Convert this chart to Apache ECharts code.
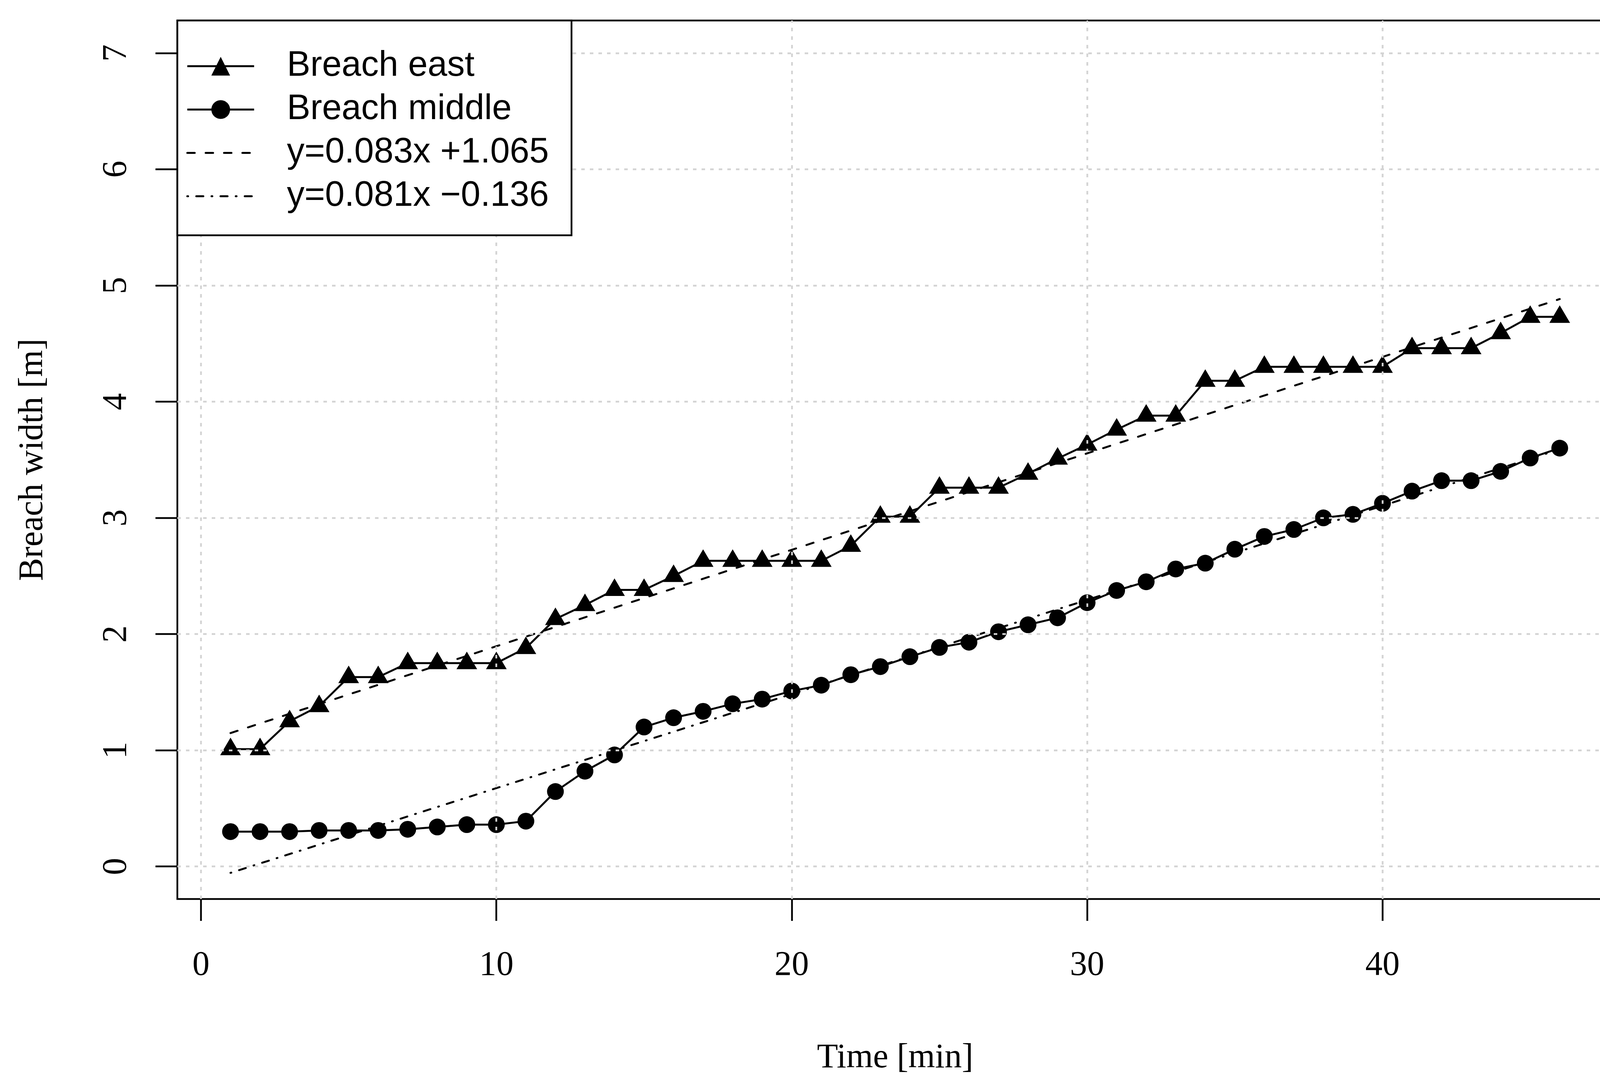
<!DOCTYPE html>
<html><head><meta charset="utf-8">
<script src="https://cdn.jsdelivr.net/npm/echarts@6/dist/echarts.min.js"></script>
<style>html,body{margin:0;padding:0;background:#fff}#c{width:4174px;height:2768px}</style>
</head><body><div id="c"></div>
<script>
// ---- data ----
const timeMin = [1,2,3,4,5,6,7,8,9,10,11,12,13,14,15,16,17,18,19,20,21,22,23,24,25,26,27,28,29,30,31,32,33,34,35,36,37,38,39,40,41,42,43,44,45,46];
const breachEast = [1.01,1.01,1.25,1.38,1.63,1.63,1.75,1.75,1.75,1.75,1.88,2.13,2.25,2.38,2.38,2.50,2.63,2.63,2.63,2.63,2.63,2.76,3.01,3.01,3.26,3.26,3.26,3.38,3.51,3.63,3.76,3.88,3.88,4.18,4.18,4.30,4.30,4.30,4.30,4.30,4.46,4.46,4.46,4.59,4.73,4.73];
const breachMiddle = [0.30,0.30,0.30,0.31,0.31,0.31,0.32,0.34,0.36,0.36,0.39,0.645,0.82,0.96,1.20,1.28,1.335,1.40,1.44,1.51,1.56,1.65,1.72,1.805,1.885,1.93,2.02,2.08,2.14,2.27,2.375,2.45,2.56,2.61,2.73,2.84,2.90,3.00,3.03,3.125,3.23,3.32,3.32,3.40,3.515,3.60];
const fitEastX = [1, 46];
const fitEastY = [1.148, 4.883];
const fitMiddleX = [1, 46];
const fitMiddleY = [-0.055, 3.590];
const xTicks = [0, 10, 20, 30, 40];
const yTicks = [0, 1, 2, 3, 4, 5, 6, 7];
const seriesNames = ['Breach east', 'Breach middle', 'y=0.083x +1.065', 'y=0.081x \u22120.136'];
const xTitle = 'Time [min]';
const yTitle = 'Breach width [m]';

// ---- build ----
const pairs = (xs, ys) => xs.map((x, i) => [x, ys[i]]);
const serif = 'Liberation Serif';
const sans = 'Liberation Sans';

const chart = echarts.init(document.getElementById('c'), null, {renderer: 'canvas', devicePixelRatio: 1});
const gridLine = {color: '#d3d3d3', width: 4.5, type: [9, 13]};

chart.setOption({
  animation: false,
  backgroundColor: '#fff',
  grid: {left: 454, right: 45, top: 52.5, bottom: 466, show: true, borderColor: '#000', borderWidth: 4.5, backgroundColor: 'transparent', containLabel: false, outerBoundsMode: 'none'},
  xAxis: {
    type: 'value', min: -0.8, max: 47.8,
    axisLine: {show: false, onZero: false},
    axisTick: {show: true, customValues: xTicks, length: 56, inside: false, lineStyle: {color: '#000', width: 4.5}},
    axisLabel: {customValues: xTicks, margin: 127, fontFamily: serif, fontSize: 88, color: '#000'},
    splitLine: {show: false},
    name: xTitle, nameLocation: 'middle', nameGap: 364, nameMoveOverlap: false,
    nameTextStyle: {fontFamily: serif, fontSize: 88, color: '#000'}
  },
  yAxis: {
    type: 'value', min: -0.28, max: 7.28,
    axisLine: {show: false, onZero: false},
    axisTick: {show: true, customValues: yTicks, length: 56, inside: false, lineStyle: {color: '#000', width: 4.5}},
    axisLabel: {customValues: yTicks, margin: 111, rotate: 90, fontFamily: serif, fontSize: 88, color: '#000'},
    splitLine: {show: false},
    name: yTitle, nameLocation: 'middle', nameGap: 325, nameMoveOverlap: false,
    nameTextStyle: {fontFamily: serif, fontSize: 88, color: '#000'}
  },
  legend: {
    data: [
      {name: seriesNames[0]},
      {name: seriesNames[1]},
      {name: seriesNames[2], itemStyle: {opacity: 0}},
      {name: seriesNames[3], itemStyle: {opacity: 0}}
    ],
    orient: 'vertical', left: 454, top: 52.5,
    itemWidth: 171, itemHeight: 60, itemGap: 21,
    padding: [72, 58, 55, 23],
    borderColor: '#000', borderWidth: 4.5, backgroundColor: '#fff', borderRadius: 0,
    selectedMode: false,
    lineStyle: {width: 5},
    textStyle: {fontFamily: sans, fontSize: 90, color: '#000', lineHeight: 90, padding: [0, 0, 0, 79]},
    z: 10
  },
  series: [
    {
      name: '__grid', type: 'line', data: [], z: 1, silent: true,
      markLine: {
        silent: true, symbol: ['none', 'none'], label: {show: false},
        lineStyle: gridLine, emphasis: {disabled: true},
        data: xTicks.map(v => ({xAxis: v})).concat(yTicks.map(v => ({yAxis: v})))
      }
    },
    {
      name: seriesNames[0], type: 'line', z: 3,
      data: pairs(timeMin, breachEast),
      symbol: 'triangle', symbolSize: [53, 45], symbolOffset: [0, -7], showSymbol: true,
      itemStyle: {color: '#000'}, lineStyle: {color: '#000', width: 5}
    },
    {
      name: seriesNames[1], type: 'line', z: 3,
      data: pairs(timeMin, breachMiddle),
      symbol: 'circle', symbolSize: 43, showSymbol: true,
      itemStyle: {color: '#000'}, lineStyle: {color: '#000', width: 5}
    },
    {
      name: seriesNames[2], type: 'line', z: 2,
      data: pairs(fitEastX, fitEastY),
      symbol: 'none',
      itemStyle: {color: '#000'}, lineStyle: {color: '#000', width: 5, type: [19, 28], cap: 'round'}
    },
    {
      name: seriesNames[3], type: 'line', z: 2,
      data: pairs(fitMiddleX, fitMiddleY),
      symbol: 'none',
      itemStyle: {color: '#000'}, lineStyle: {color: '#000', width: 5, type: [2, 21, 18, 21], cap: 'round'}
    }
  ]
});
</script></body></html>
